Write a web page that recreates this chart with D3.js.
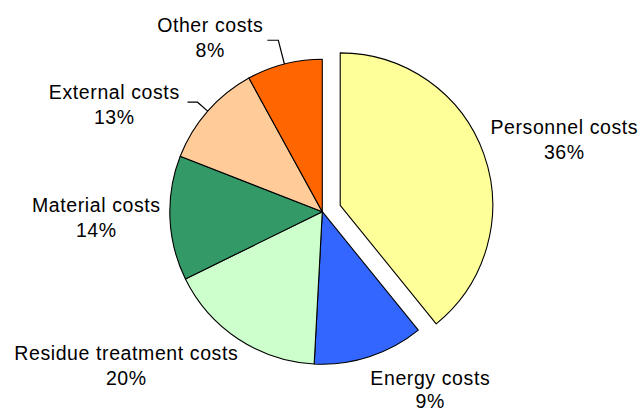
<!DOCTYPE html>
<html>
<head>
<meta charset="utf-8">
<script src="https://cdn.jsdelivr.net/npm/d3@7"></script>
<style>
  html, body { margin: 0; padding: 0; background: #fff; }
  svg { display: block; }
</style>
</head>
<body>
<div id="chart"></div>
<script>
const width = 642;
const height = 414;
const radius = 152.5;
const cx = 322.3;
const cy = 211.7;
const explode = 19;

// slice shares as drawn
const categories = ["Personnel costs", "Energy costs", "Residue treatment costs", "Material costs", "External costs", "Other costs"];
const shares = [39.2, 11.7, 16.9, 13.2, 11.1, 8.0];
const percentLabels = ["36%", "9%", "20%", "14%", "13%", "8%"];
const colors = ["#ffff99", "#3366ff", "#ccffcc", "#339966", "#ffcc99", "#ff6600"];
const exploded = ["Personnel costs"];

// label anchor (centre of first line baseline), relative to pie centre
const labelPos = {
    "Personnel costs": [242, -78],
    "Energy costs": [108, 173],
    "Residue treatment costs": [-196, 148],
    "Material costs": [-226, 0],
    "External costs": [-208, -113],
    "Other costs": [-112, -180]
};
// line gap between name and percentage, per label
const lineGap = { "Energy costs": 23 };
// leader lines: elbow radius and horizontal tail length
const leaders = {
    "Other costs": { elbow: 177, tail: 11 },
    "External costs": { elbow: 166, tail: 10 }
};

const data = categories.map((c, i) => ({ name: c, value: shares[i], label: percentLabels[i], color: colors[i] }));

const svg = d3.select("#chart").append("svg")
    .attr("width", width)
    .attr("height", height)
    .attr("viewBox", [0, 0, width, height]);

const g = svg.append("g").attr("transform", `translate(${cx},${cy})`);

const pie = d3.pie().value(d => d.value).sort(null);
const arcs = pie(data);

const arcGen = d3.arc().innerRadius(0).outerRadius(radius);

function offset(d) {
    if (!exploded.includes(d.data.name)) return [0, 0];
    const a = (d.startAngle + d.endAngle) / 2;
    return [Math.sin(a) * explode, -Math.cos(a) * explode];
}

g.selectAll("path.slice")
    .data(arcs)
    .join("path")
    .attr("class", "slice")
    .attr("d", arcGen)
    .attr("transform", d => `translate(${offset(d)})`)
    .attr("fill", d => d.data.color)
    .attr("stroke", "#000")
    .attr("stroke-width", 1.1)
    .attr("stroke-linejoin", "round");

// leader lines
g.selectAll("path.leader")
    .data(arcs.filter(d => leaders[d.data.name]))
    .join("path")
    .attr("class", "leader")
    .attr("fill", "none")
    .attr("stroke", "#000")
    .attr("stroke-width", 1.2)
    .attr("d", d => {
        const a = (d.startAngle + d.endAngle) / 2;
        const L = leaders[d.data.name];
        const p0 = [Math.sin(a) * radius, -Math.cos(a) * radius];
        const p1 = [Math.sin(a) * L.elbow, -Math.cos(a) * L.elbow];
        const p2 = [p1[0] - L.tail, p1[1]];
        return d3.line()([p0, p1, p2]);
    });

// labels
const labels = g.selectAll("text.label")
    .data(arcs)
    .join("text")
    .attr("class", "label")
    .attr("text-anchor", "middle")
    .attr("x", d => labelPos[d.data.name][0])
    .attr("y", d => labelPos[d.data.name][1])
    .style("font-family", "'Liberation Sans', Arial, Helvetica, sans-serif")
    .style("font-size", "19.5px")
    .style("letter-spacing", "0.6px")
    .attr("fill", "#000");

labels.append("tspan")
    .attr("x", d => labelPos[d.data.name][0])
    .text(d => d.data.name);

labels.append("tspan")
    .attr("x", d => labelPos[d.data.name][0])
    .attr("dy", d => lineGap[d.data.name] || 25)
    .text(d => d.data.label);
</script>
</body>
</html>
